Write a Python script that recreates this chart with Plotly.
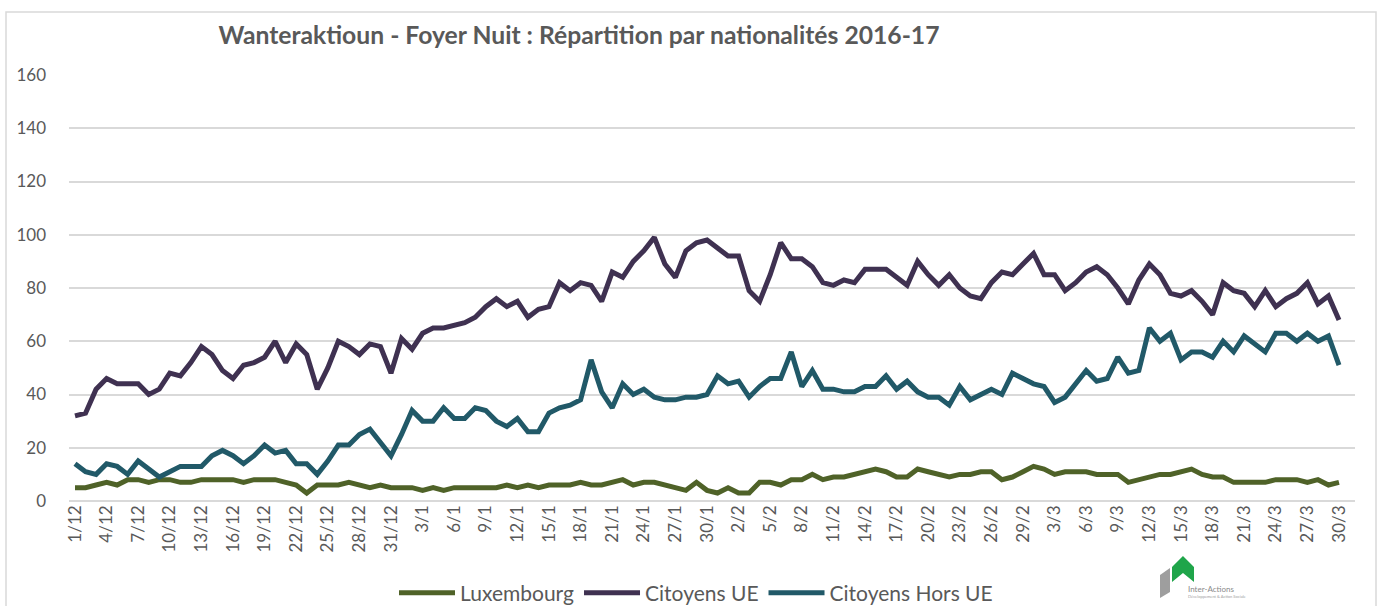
import plotly.graph_objects as go

# Category labels: 1/12 .. 31/12, 1/1 .. 31/1, 1/2 .. 29/2, 1/3 .. 30/3
months = [(12, 31), (1, 31), (2, 29), (3, 30)]
dates = [f"{d}/{m}" for m, n in months for d in range(1, n + 1)]

luxembourg = [
    5, 5, 6, 7, 6, 8, 8, 7, 8, 8,
    7, 7, 8, 8, 8, 8, 7, 8, 8, 8,
    7, 6, 3, 6, 6, 6, 7, 6, 5, 6,
    5, 5, 5, 4, 5, 4, 5, 5, 5, 5,
    5, 6, 5, 6, 5, 6, 6, 6, 7, 6,
    6, 7, 8, 6, 7, 7, 6, 5, 4, 7,
    4, 3, 5, 3, 3, 7, 7, 6, 8, 8,
    10, 8, 9, 9, 10, 11, 12, 11, 9, 9,
    12, 11, 10, 9, 10, 10, 11, 11, 8, 9,
    11, 13, 12, 10, 11, 11, 11, 10, 10, 10,
    7, 8, 9, 10, 10, 11, 12, 10, 9, 9,
    7, 7, 7, 7, 8, 8, 8, 7, 8, 6, 7,
]

citoyens_ue = [
    32, 33, 42, 46, 44, 44, 44, 40, 42, 48,
    47, 52, 58, 55, 49, 46, 51, 52, 54, 60,
    52, 59, 55, 42, 50, 60, 58, 55, 59, 58,
    48, 61, 57, 63, 65, 65, 66, 67, 69, 73,
    76, 73, 75, 69, 72, 73, 82, 79, 82, 81,
    75, 86, 84, 90, 94, 99, 89, 84, 94, 97,
    98, 95, 92, 92, 79, 75, 85, 97, 91, 91,
    88, 82, 81, 83, 82, 87, 87, 87, 84, 81,
    90, 85, 81, 85, 80, 77, 76, 82, 86, 85,
    89, 93, 85, 85, 79, 82, 86, 88, 85, 80,
    74, 83, 89, 85, 78, 77, 79, 75, 70, 82,
    79, 78, 73, 79, 73, 76, 78, 82, 74, 77, 68,
]

citoyens_hors_ue = [
    14, 11, 10, 14, 13, 10, 15, 12, 9, 11,
    13, 13, 13, 17, 19, 17, 14, 17, 21, 18,
    19, 14, 14, 10, 15, 21, 21, 25, 27, 22,
    17, 25, 34, 30, 30, 35, 31, 31, 35, 34,
    30, 28, 31, 26, 26, 33, 35, 36, 38, 53,
    41, 35, 44, 40, 42, 39, 38, 38, 39, 39,
    40, 47, 44, 45, 39, 43, 46, 46, 56, 43,
    49, 42, 42, 41, 41, 43, 43, 47, 42, 45,
    41, 39, 39, 36, 43, 38, 40, 42, 40, 48,
    46, 44, 43, 37, 39, 44, 49, 45, 46, 54,
    48, 49, 65, 60, 63, 53, 56, 56, 54, 60,
    56, 62, 59, 56, 63, 63, 60, 63, 60, 62, 51,
]

series_names = ["Luxembourg", "Citoyens UE", "Citoyens Hors UE"]
series_colors = ["#4F6228", "#3F3151", "#215968"]
series_values = [luxembourg, citoyens_ue, citoyens_hors_ue]

x_tick_labels = dates[::3]
y_tick_values = [0, 20, 40, 60, 80, 100, 120, 140, 160]

TITLE = "Wanteraktioun - Foyer Nuit : Répartition par nationalités 2016-17"
FONT = "Lato, 'Open Sans', sans-serif"
TXT = "#595959"

fig = go.Figure()
for name, color, vals in zip(series_names, series_colors, series_values):
    fig.add_trace(go.Scatter(
        x=dates, y=vals, mode="lines", name=name,
        line=dict(color=color, width=5),
    ))

# Body margin is removed by post_script, so figure pixels == window pixels.
W, H = 1383, 606
PL, PR, PT, PB = 69, 1355, 75, 501          # plot area in window pixels
L, T, R, B = PL, PT, W - PR, H - PB
pw, ph = PR - PL, PB - PT

def px(X):
    return (X - PL) / pw

def py(Y):
    return (PB - Y) / ph

fig.update_layout(
    width=W, height=H,
    margin=dict(l=L, r=R, t=T, b=B, autoexpand=False),
    paper_bgcolor="white", plot_bgcolor="white",
    font=dict(family=FONT, color=TXT, size=17),
    title=dict(text=f"<b>{TITLE}</b>", x=579 / W, xanchor="center",
               y=1 - 35 / H, yanchor="middle",
               font=dict(family=FONT, size=24.7, color=TXT)),
    xaxis=dict(
        type="category", categoryorder="array", categoryarray=dates,
        range=[-0.57, 121.52],
        tickmode="array", tickvals=x_tick_labels, ticktext=x_tick_labels,
        tickangle=-90, tickfont=dict(size=17, color=TXT),
        showgrid=False, showline=False, zeroline=False, ticks="",
    ),
    yaxis=dict(
        range=[0, 160], tickmode="array", tickvals=y_tick_values,
        tickfont=dict(size=17, color=TXT),
        showgrid=True, gridcolor="#D9D9D9", gridwidth=1.5,
        zeroline=True, zerolinecolor="#D9D9D9", zerolinewidth=1.5,
        showline=False, ticks="", ticklabelstandoff=22,
    ),
    legend=dict(
        orientation="h", x=px(696), xanchor="center",
        y=py(593), yanchor="middle",
        font=dict(size=21, color=TXT), bgcolor="rgba(0,0,0,0)",
        itemwidth=56,
    ),
    showlegend=True,
)

# Chart border
fig.add_shape(type="rect", xref="paper", yref="paper",
              x0=px(6), x1=px(1376), y0=py(640), y1=py(12),
              line=dict(color="#D9D9D9", width=1.5), fillcolor="rgba(0,0,0,0)",
              layer="below")

# Logo (approximation)
def path(points):
    return "M " + " L ".join(f"{px(a):.5f},{py(b):.5f}" for a, b in points) + " Z"

fig.add_shape(type="path", xref="paper", yref="paper",
              path=path([(1160, 598), (1160, 575), (1170, 568), (1170, 592)]),
              fillcolor="#9E9E9E", line=dict(width=0))
fig.add_shape(type="path", xref="paper", yref="paper",
              path=path([(1172, 582), (1172, 567), (1183, 556), (1194, 567),
                         (1194, 582), (1183, 573)]),
              fillcolor="#1FA54A", line=dict(width=0))
fig.add_annotation(xref="paper", yref="paper", x=px(1186), y=py(589),
                   text="Inter-Actions", showarrow=False, xanchor="left",
                   yanchor="middle", font=dict(size=8, color="#8A8A8A", family=FONT))
fig.add_annotation(xref="paper", yref="paper", x=px(1186), y=py(596),
                   text="Développement & Action Sociale", showarrow=False,
                   xanchor="left", yanchor="middle",
                   font=dict(size=4, color="#A0A0A0", family=FONT))

fig.write_html(
    "out.html",
    config={"displayModeBar": False},
    post_script="document.body.style.margin='0';document.body.style.overflow='hidden';",
)
